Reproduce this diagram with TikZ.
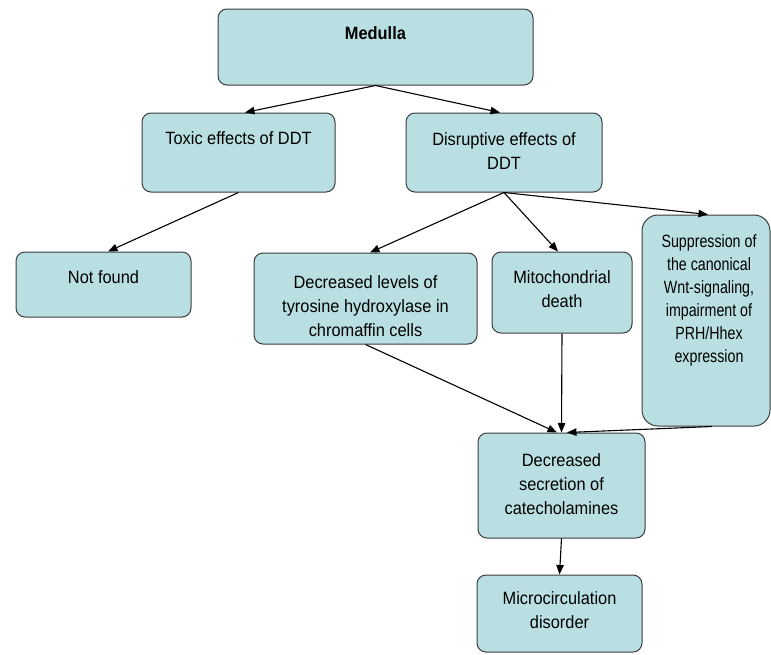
\documentclass[tikz,border=0pt]{standalone}
\usepackage{fontspec}
\setmainfont{Liberation Sans}[FakeStretch=0.92]
\newfontfamily\narrowfont{Liberation Sans}[FakeStretch=0.8]
\usetikzlibrary{arrows.meta}
\definecolor{boxfill}{RGB}{185,223,227}
\definecolor{boxline}{RGB}{60,60,60}
\begin{document}
\begin{tikzpicture}[x=1pt,y=-1pt,
  box/.style={draw=boxline, fill=boxfill, line width=1pt, rounded corners=9pt, inner sep=0pt},
  txt/.style={align=center, inner sep=0pt, font=\fontsize{17.8}{24}\selectfont},
  narrowtxt/.style={align=center, inner sep=0pt, font=\narrowfont\fontsize{17.8}{23}\selectfont},
  conn/.style={line width=1.1pt, -{Triangle[length=9.5pt,width=7.5pt]}}]
\useasboundingbox (0,0) rectangle (771,654);

% boxes
\node[box, minimum width=315pt, minimum height=76pt] (med) at (375.5,47) {};
\node[box, minimum width=193pt, minimum height=79pt] (tox) at (238.5,152.5) {};
\node[box, minimum width=196pt, minimum height=79pt] (dis) at (504,152.5) {};
\node[box, minimum width=175pt, minimum height=65pt] (nf) at (103.5,284.5) {};
\node[box, minimum width=223pt, minimum height=91pt] (decl) at (365.5,298.5) {};
\node[box, minimum width=140pt, minimum height=81pt] (mito) at (562,292.5) {};
\node[box, minimum width=128pt, minimum height=211pt, rounded corners=16pt] (supp) at (706,320.5) {};
\node[box, minimum width=167pt, minimum height=105pt] (sec) at (561.5,485.5) {};
\node[box, minimum width=165pt, minimum height=77pt] (mic) at (559.5,613.5) {};

% texts
\node[txt] (medT) at (375.5,33) {\textbf{Medulla}};
\node[txt] (toxT) at (238.5,138) {Toxic effects of DDT};
\node[txt] (disT) at (504,151) {Disruptive effects of\\DDT};
\node[txt] (nfT) at (103.5,277) {Not found};
\node[txt] (declT) at (365.5,306) {Decreased levels of\\tyrosine hydroxylase in\\chromaffin cells};
\node[txt] (mitoT) at (562,289.5) {Mitochondrial\\death};
\node[narrowtxt] (suppT) at (709,300) {Suppression of\\the canonical\\Wnt-signaling,\\impairment of\\PRH/Hhex\\expression};
\node[txt] (secT) at (561.5,484) {Decreased\\secretion of\\catecholamines};
\node[txt] (micT) at (559.5,610.5) {Microcirculation\\disorder};

% connectors
\draw[conn] (med.south) -- ([xshift=6.5pt]tox.north);
\draw[conn] (med.south) -- ([xshift=-4pt]dis.north);
\draw[conn] (tox.south) -- ([xshift=4.5pt]nf.north);
\draw[conn] (dis.south) -- ([xshift=4.5pt]decl.north);
\draw[conn] (dis.south) -- ([xshift=-4pt]mito.north);
\draw[conn] (dis.south) -- ([xshift=2pt]supp.north);
\draw[conn] (decl.south) -- ([xshift=-4.5pt]sec.north);
\draw[conn] (mito.south) -- (sec.north);
\draw[conn] ([xshift=6pt]supp.south) -- ([xshift=5.5pt]sec.north);
\draw[conn] (sec.south) -- (mic.north);
\end{tikzpicture}
\end{document}
